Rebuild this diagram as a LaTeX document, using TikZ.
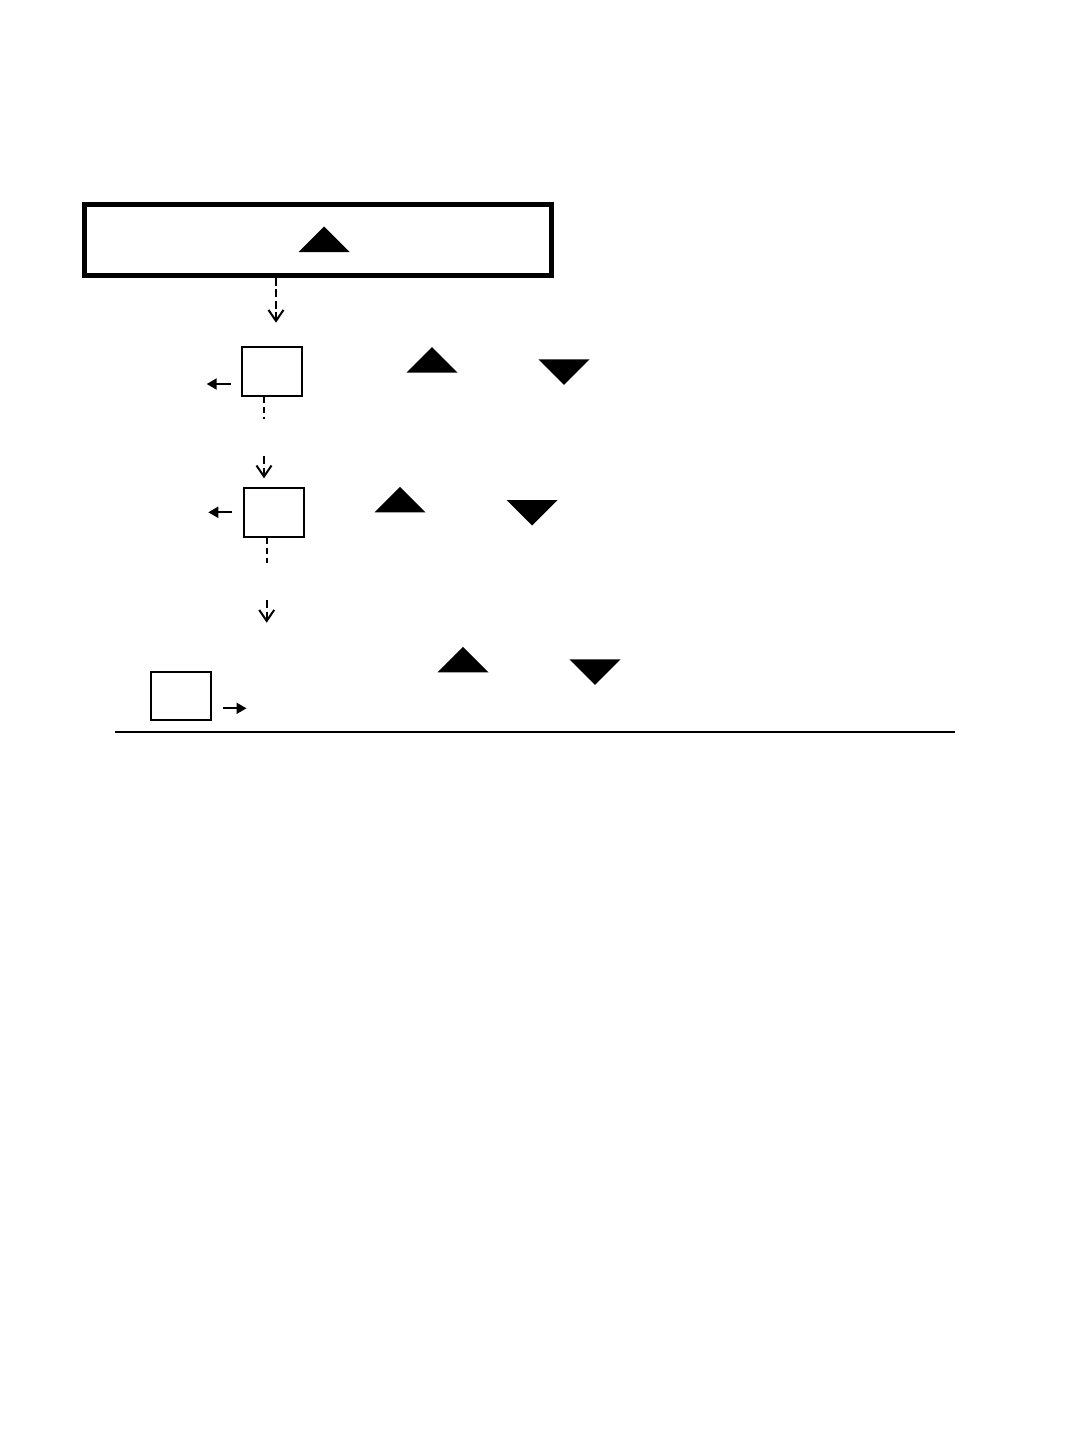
\documentclass[tikz,border=0pt]{standalone}
\usetikzlibrary{arrows.meta}
\begin{document}
\begin{tikzpicture}[x=1pt,y=-1pt,
  bigbox/.style={draw,line width=5pt,rectangle,minimum width=467pt,minimum height=71pt,inner sep=0pt},
  smallbox/.style={draw,line width=1.8pt,rectangle,minimum width=60pt,minimum height=48.5pt,inner sep=0pt},
  flowdash/.style={line width=2pt,dash pattern=on 8pt off 3.5pt,-{Straight Barb[length=11pt,width=15pt,line width=2pt]}},
  stubdash/.style={line width=2pt,dash pattern=on 6pt off 4pt},
  sidearrow/.style={line width=2pt,-{Triangle[length=10pt,width=11pt]}},
  rule/.style={line width=2.2pt},
  uptri/.pic={\fill (-25.5,0) -- (25.5,0) -- (0,-25.5) -- cycle;},
  downtri/.pic={\fill (-25.5,0) -- (25.5,0) -- (0,25.5) -- cycle;}
]
\useasboundingbox (0,0) rectangle (1080,1440);

% top box
\node[bigbox] (big) at (317.8,239.9) {};
\pic at (324,252) {uptri};

% row 1
\node[smallbox] (b1) at (272.2,371.5) {};
\coordinate (a1) at (276,322.7);
\draw[flowdash] (big.south -| a1) -- (a1);
\coordinate (l1) at (206.7,384);
\coordinate (l1s) at (230.7,384);
\draw[sidearrow] (l1s) -- (l1);
\coordinate (s1) at (264,419);
\draw[stubdash] (b1.south -| s1) -- (s1);
\pic at (432,372.7) {uptri};
\pic at (564,359.3) {downtri};

% row 2
\node[smallbox] (b2) at (273.9,512.4) {};
\coordinate (a2s) at (264,456);
\coordinate (a2) at (264,478.3);
\draw[flowdash] (a2s) -- (a2);
\coordinate (l2) at (208.3,512.3);
\coordinate (l2s) at (232.3,512.3);
\draw[sidearrow] (l2s) -- (l2);
\coordinate (s2) at (267,563);
\draw[stubdash] (b2.south -| s2) -- (s2);
\pic at (400,512.3) {uptri};
\pic at (532,500) {downtri};

% row 3
\coordinate (a3s) at (266.7,600);
\coordinate (a3) at (266.7,622.7);
\draw[flowdash] (a3s) -- (a3);
\pic at (463,672.3) {uptri};
\pic at (595,659.3) {downtri};
\node[smallbox] (b3) at (180.9,696) {};
\coordinate (r3) at (246.5,708.3);
\coordinate (r3s) at (223.3,708.3);
\draw[sidearrow] (r3s) -- (r3);

% rule
\coordinate (hl) at (115,731.7);
\coordinate (hr) at (955,731.7);
\draw[rule] (hl) -- (hr);
\end{tikzpicture}
\end{document}
